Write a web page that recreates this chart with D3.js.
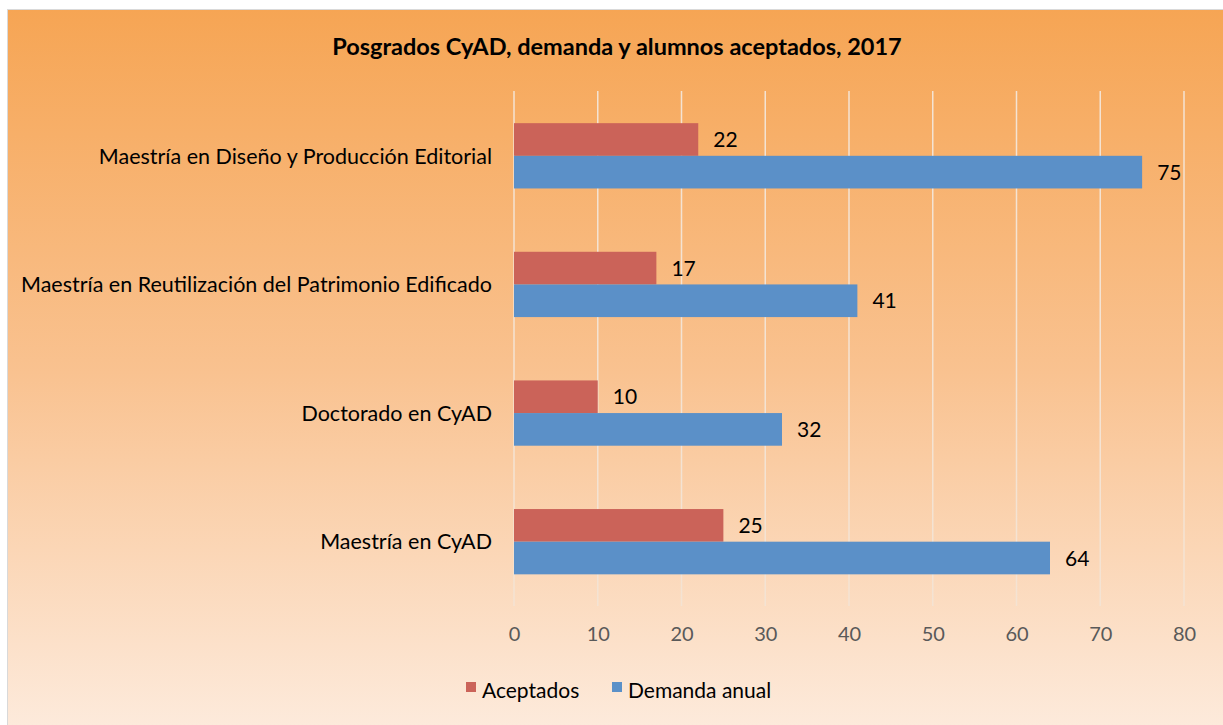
<!DOCTYPE html>
<html>
    <head>
        <meta charset="utf-8">
        <style>
            body { margin: 0; background: white; }
            text { font-family: Lato, "Open Sans", sans-serif; fill: black; }
            .tick text { fill: #595959; font-size: 20px; }
            .grid line { stroke: #f4e3d3; stroke-width: 1.5; }
        </style>
        <script src="https://cdn.jsdelivr.net/npm/d3@7"></script>
    </head>
    <body>
        <div id="canvas"></div>
        <script>
            var categories = ["Maestría en Diseño y Producción Editorial",
                              "Maestría en Reutilización del Patrimonio Edificado",
                              "Doctorado en CyAD",
                              "Maestría en CyAD"];
            var aceptados = [22, 17, 10, 25];
            var demanda = [75, 41, 32, 64];
            var series_names = ["Aceptados", "Demanda anual"];
            var series_colors = ["#cb6359", "#5b90c8"];
            var x_ticks = [0, 10, 20, 30, 40, 50, 60, 70, 80];

            var canvas_w = 1223, canvas_h = 725;

            var svg = d3.select("#canvas").append("svg")
                        .attr("width", canvas_w).attr("height", canvas_h);

            // background gradient
            var grad = svg.append("defs").append("linearGradient")
                          .attr("id", "bg").attr("x1", 0).attr("x2", 0).attr("y1", 0).attr("y2", 1);
            grad.append("stop").attr("offset", "0%").attr("stop-color", "#f6a554");
            grad.append("stop").attr("offset", "50%").attr("stop-color", "#f9c290");
            grad.append("stop").attr("offset", "100%").attr("stop-color", "#fdebdd");

            svg.append("rect").attr("x", 7.5).attr("y", 9.5)
               .attr("width", canvas_w).attr("height", canvas_h)
               .attr("fill", "url(#bg)").attr("stroke", "#d9d9d9");

            svg.append("text").attr("x", 617).attr("y", 55)
               .attr("text-anchor", "middle").attr("font-weight", "bold").attr("font-size", 23.5)
               .text("Posgrados CyAD, demanda y alumnos aceptados, 2017");

            var x = d3.scaleLinear().domain([0, 80]).range([514, 1184]);
            var y = d3.scaleBand().domain(categories).range([91.5, 606]);
            var inner = d3.scaleBand().domain([0, 1]).range([0, y.bandwidth()]).paddingOuter(0.97).paddingInner(0);

            // gridlines
            svg.append("g").attr("class", "grid")
               .selectAll("line").data(x_ticks).enter().append("line")
               .attr("x1", d => x(d)).attr("x2", d => x(d))
               .attr("y1", 91).attr("y2", 606);

            // x axis labels
            var xaxis = svg.append("g").attr("transform", "translate(0,606)")
                           .call(d3.axisBottom(x).tickValues(x_ticks).tickSize(0).tickPadding(21));
            xaxis.select(".domain").remove();

            var series = [aceptados, demanda];
            series.forEach(function(vals, s) {
                var g = svg.append("g");
                g.selectAll("rect").data(vals).enter().append("rect")
                 .attr("x", x(0))
                 .attr("y", (d, i) => y(categories[i]) + inner(s))
                 .attr("width", d => x(d) - x(0))
                 .attr("height", inner.bandwidth())
                 .attr("fill", series_colors[s]);
                g.selectAll("text").data(vals).enter().append("text")
                 .attr("x", d => x(d) + 15)
                 .attr("y", (d, i) => y(categories[i]) + inner(s) + inner.bandwidth() / 2)
                 .attr("dy", "0.36em").attr("font-size", 21)
                 .text(d => d);
            });

            // category labels
            svg.append("g").selectAll("text").data(categories).enter().append("text")
               .attr("x", 492).attr("y", d => y(d) + y.bandwidth() / 2)
               .attr("dy", "0.36em").attr("text-anchor", "end").attr("font-size", 21.5)
               .text(d => d);

            // legend
            var legend_x = [466, 612];
            var legend = svg.append("g").selectAll("g").data(series_names).enter().append("g")
                            .attr("transform", (d, i) => "translate(" + legend_x[i] + ",690)");
            legend.append("rect").attr("x", 0).attr("y", -8).attr("width", 10).attr("height", 10)
                  .attr("fill", (d, i) => series_colors[i]);
            legend.append("text").attr("x", 16).attr("y", 0).attr("dy", "0.36em")
                  .attr("font-size", 21).text(d => d);
        </script>
    </body>
</html>
